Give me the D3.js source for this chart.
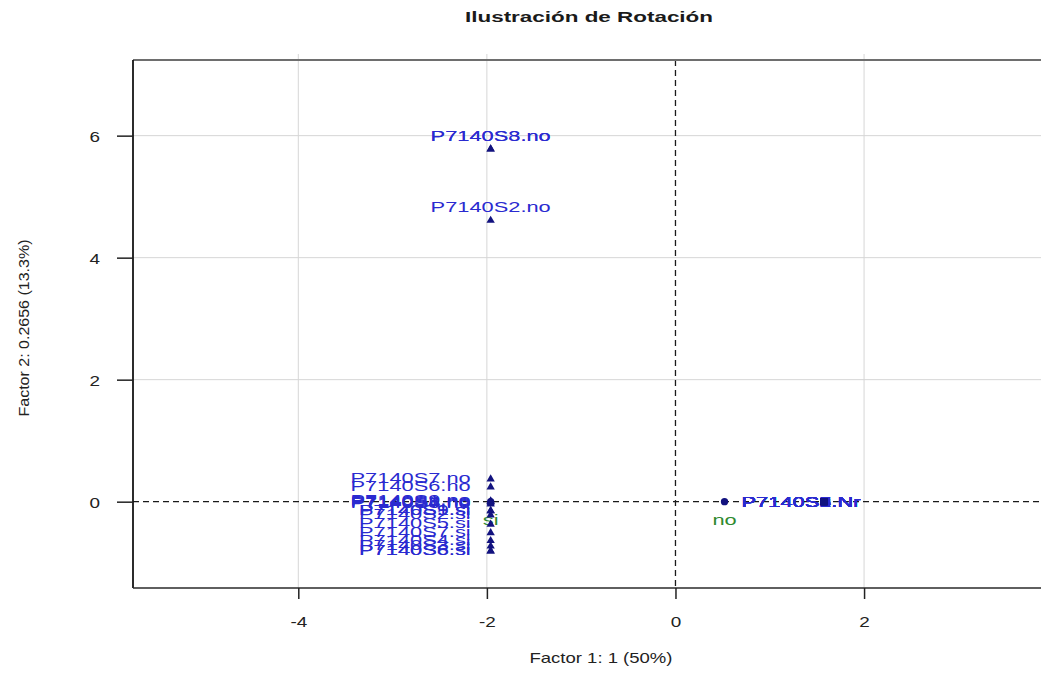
<!DOCTYPE html>
<html>
<head>
<meta charset="utf-8">
<script src="https://cdn.jsdelivr.net/npm/d3@7"></script>
<style>
  html, body { margin: 0; padding: 0; background: #fff; overflow: hidden; }
  #wrap { width: 1041px; height: 677px; overflow: hidden; }
  svg { display: block; }
  text { font-family: "Liberation Sans", Arial, sans-serif; }
</style>
</head>
<body>
<div id="wrap"><svg id="chart" width="1100" height="677"></svg></div>
<script>
// Axis ticks
const xTickValues = [-4, -2, 0, 2];
const yTickValues = [0, 2, 4, 6];

// Active categories (factor 1 / factor 2 coordinates)
const activeLabels = [
  "P7140S3.no", "P7140S8.no", "P7140S2.no",
  "P7140S7.no", "P7140S6.no", "P7140S9.no", "P7140S1.no", "P7140S4.no", "P7140S5.no",
  "P7140S1.si", "P7140S9.si", "P7140S2.si", "P7140S5.si", "P7140S7.si",
  "P7140S4.si", "P7140S3.si", "P7140S6.si", "P7140S8.si",
  "P7140S1.Nr", "P7140S2.Nr", "P7140S3.Nr", "P7140S4.Nr", "P7140S5.Nr",
  "P7140S6.Nr", "P7140S7.Nr", "P7140S8.Nr", "P7140S9.Nr"
];
const activeDim1 = [
  -1.96, -1.96, -1.96,
  -1.96, -1.96, -1.96, -1.96, -1.96, -1.96,
  -1.96, -1.96, -1.96, -1.96, -1.96,
  -1.96, -1.96, -1.96, -1.96,
  1.575, 1.575, 1.575, 1.575, 1.575,
  1.575, 1.575, 1.575, 1.575
];
const activeDim2 = [
  5.78, 5.78, 4.61,
  0.37, 0.24, 0.01, 0.00, -0.02, -0.04,
  -0.15, -0.15, -0.22, -0.37, -0.51,
  -0.64, -0.73, -0.81, -0.81,
  0, 0, 0, 0, 0,
  0, 0, 0, 0
];
// where each category's label sits relative to its point
const activeLabelSide = [
  "above", "above", "above",
  "left", "left", "left", "left", "left", "left",
  "left", "left", "left", "left", "left",
  "left", "left", "left", "left",
  "inline", "inline", "inline", "inline", "inline",
  "inline", "inline", "inline", "inline"
];
const activeShape = activeLabels.map(l => l.endsWith(".Nr") ? "square" : "triangle");

// Supplementary categories
const supLabels = ["no", "si"];
const supDim1 = [0.52, -1.96];
const supDim2 = [0.00, 0.00];

const W = 1100, H = 677;
const plot = { left: 133, top: 60, bottom: 588, right: 1080 };

const x = d3.scaleLinear().domain([-5.753, 4.29]).range([plot.left, plot.right]);
const y = d3.scaleLinear().domain([-1.415, 7.24]).range([plot.bottom, plot.top]);

const svg = d3.select("#chart");

const labelBlue = "#2a2ad0";
const markBlue = "#12127f";
const supGreen = "#2f8a2f";
const TEXT_SX = 1.455;

// grid lines
const grid = svg.append("g").attr("stroke", "#d6d6d6").attr("stroke-width", 1);
grid.selectAll("line.gx").data(xTickValues.filter(d => d !== 0)).join("line")
  .attr("class", "gx")
  .attr("x1", d => x(d)).attr("x2", d => x(d))
  .attr("y1", plot.top - 6).attr("y2", plot.bottom);
grid.selectAll("line.gy").data(yTickValues.filter(d => d !== 0)).join("line")
  .attr("class", "gy")
  .attr("x1", plot.left).attr("x2", W)
  .attr("y1", d => y(d)).attr("y2", d => y(d));

// dashed origin lines
svg.append("line")
  .attr("x1", x(0)).attr("x2", x(0)).attr("y1", plot.top).attr("y2", plot.bottom)
  .attr("stroke", "#1a1a1a").attr("stroke-width", 1.3).attr("stroke-dasharray", "6,4");
svg.append("line")
  .attr("x1", plot.left).attr("x2", W).attr("y1", y(0)).attr("y2", y(0))
  .attr("stroke", "#1a1a1a").attr("stroke-width", 1.3).attr("stroke-dasharray", "6,4");

// frame (the right side runs past the visible area)
svg.append("line").attr("x1", plot.left).attr("x2", W).attr("y1", plot.top).attr("y2", plot.top)
  .attr("stroke", "#6e6e6e").attr("stroke-width", 2);
svg.append("line").attr("x1", plot.left).attr("x2", plot.left).attr("y1", plot.top).attr("y2", plot.bottom)
  .attr("stroke", "#151515").attr("stroke-width", 1.8);
svg.append("line").attr("x1", plot.left).attr("x2", W).attr("y1", plot.bottom).attr("y2", plot.bottom)
  .attr("stroke", "#2a2a2a").attr("stroke-width", 1.6);

// axes
const xAxis = d3.axisBottom(x).tickValues(xTickValues).tickSize(11).tickSizeOuter(0)
  .tickFormat(d => String(d));
const gx = svg.append("g").attr("transform", `translate(0,${plot.bottom})`).call(xAxis);
gx.select(".domain").remove();
gx.selectAll(".tick line").attr("stroke", "#222").attr("stroke-width", 1.5);
gx.selectAll(".tick text")
  .attr("y", null).attr("dy", null)
  .attr("transform", "translate(0,39) scale(1.35,1)")
  .attr("font-size", 14).attr("fill", "#222")
  .style("font-family", '"Liberation Sans", Arial, sans-serif');

const yAxis = d3.axisLeft(y).tickValues(yTickValues).tickSize(16).tickSizeOuter(0)
  .tickFormat(d => String(d));
const gy = svg.append("g").attr("transform", `translate(${plot.left},0)`).call(yAxis);
gy.select(".domain").remove();
gy.selectAll(".tick line").attr("stroke", "#222").attr("stroke-width", 1.5);
gy.selectAll(".tick text")
  .attr("x", null).attr("dy", null)
  .attr("text-anchor", "end")
  .attr("transform", "translate(-33,6) scale(1.35,1)")
  .attr("font-size", 14).attr("fill", "#222")
  .style("font-family", '"Liberation Sans", Arial, sans-serif');

// titles
svg.append("text")
  .attr("x", 589).attr("y", 22)
  .attr("text-anchor", "middle").attr("font-weight", "bold").attr("font-size", 14)
  .attr("textLength", 248).attr("lengthAdjust", "spacingAndGlyphs")
  .attr("fill", "#1a1a1a")
  .text("Ilustración de Rotación");

svg.append("text")
  .attr("x", 601).attr("y", 663)
  .attr("text-anchor", "middle").attr("font-size", 15)
  .attr("textLength", 143).attr("lengthAdjust", "spacingAndGlyphs")
  .attr("fill", "#222")
  .text("Factor 1: 1 (50%)");

svg.append("text")
  .attr("transform", "translate(29,328) rotate(-90)")
  .attr("text-anchor", "middle").attr("font-size", 15)
  .attr("textLength", 177).attr("lengthAdjust", "spacingAndGlyphs")
  .attr("fill", "#222")
  .text("Factor 2: 0.2656 (13.3%)");

// data rows
const active = activeLabels.map((label, i) => ({
  label, d1: activeDim1[i], d2: activeDim2[i],
  side: activeLabelSide[i], shape: activeShape[i]
}));
const sup = supLabels.map((label, i) => ({ label, d1: supDim1[i], d2: supDim2[i], side: "below" }));

const placement = {
  above:  { anchor: "middle", dx: 0,   dy: -8 },
  left:   { anchor: "end",    dx: -20, dy: 4 },
  inline: { anchor: "middle", dx: -23, dy: 5 },
  below:  { anchor: "middle", dx: 0,   dy: 23 }
};

const symbolType = { triangle: d3.symbolTriangle, square: d3.symbolSquare, circle: d3.symbolCircle };
const symbolSize = { triangle: 30, square: 49, circle: 42 };

const marks = svg.append("g");

// supplementary markers
marks.selectAll("path.sup").data(sup).join("path")
  .attr("class", "sup")
  .attr("transform", d => `translate(${x(d.d1)},${y(d.d2)})`)
  .attr("d", d3.symbol().type(d3.symbolCircle).size(symbolSize.circle))
  .attr("fill", markBlue);

// category labels
marks.selectAll("text.act").data(active).join("text")
  .attr("class", "act")
  .attr("text-anchor", d => placement[d.side].anchor)
  .attr("transform", d => `translate(${x(d.d1) + placement[d.side].dx},${y(d.d2) + placement[d.side].dy}) scale(${TEXT_SX},1)`)
  .attr("font-size", 15)
  .attr("fill", labelBlue)
  .text(d => d.label);

marks.selectAll("text.sup").data(sup).join("text")
  .attr("class", "sup")
  .attr("text-anchor", d => placement[d.side].anchor)
  .attr("transform", d => `translate(${x(d.d1) + placement[d.side].dx},${y(d.d2) + placement[d.side].dy}) scale(${TEXT_SX},1)`)
  .attr("font-size", 15)
  .attr("fill", supGreen)
  .text(d => d.label);

// active markers
marks.selectAll("path.act").data(active).join("path")
  .attr("class", "act")
  .attr("transform", d => `translate(${x(d.d1)},${y(d.d2)})`)
  .attr("d", d => d3.symbol().type(symbolType[d.shape]).size(symbolSize[d.shape])())
  .attr("fill", markBlue);
</script>
</body>
</html>
